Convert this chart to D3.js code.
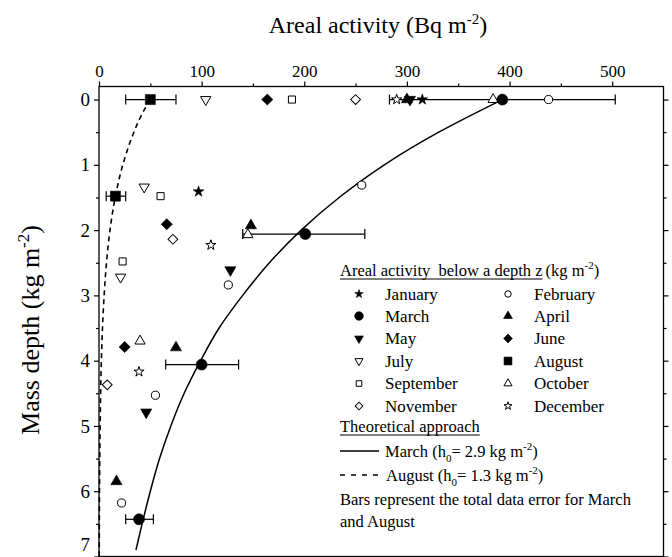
<!DOCTYPE html>
<html><head><meta charset="utf-8">
<script src="https://cdn.jsdelivr.net/npm/d3@7"></script>
<style>
body{margin:0;background:#fff}
svg{display:block}
text{font-family:"Liberation Serif","Times New Roman",serif;fill:#000}
</style>
</head><body>
<svg id="chart" width="672" height="557"></svg>
<script>
// ---------- DATA (activity in Bq m-2, depth in kg m-2) ----------
const months = ["January","February","March","April","May","June","July","August","September","October","November","December"];

// each point: [depth, activity]
const january   = [[0,315],[1.41,97]];
const february  = [[0,438],[1.31,256],[2.84,126],[4.53,55],[6.18,22]];
const march     = [[0,393],[2.06,201],[4.06,100],[6.43,39]];
const april     = [[0,300],[1.93,148],[3.80,75],[5.85,17]];
const may       = [[0,303],[2.61,128],[4.79,46]];
const june      = [[0,164],[1.91,66],[3.79,25]];
const july      = [[0,104],[1.34,44],[2.72,21]];
const august    = [[0,50],[1.48,16]];
const september = [[0,188],[1.48,60],[2.48,23]];
const october   = [[0,384],[2.07,145],[3.70,40]];
const november  = [[0,250],[2.14,72],[4.37,8]];
const december  = [[0,290],[2.23,109],[4.17,39]];
const monthData = [january,february,march,april,may,june,july,august,september,october,november,december];

// error bars: [depth, low, high]
const marchErrors  = [[0,283,503],[2.06,140,259],[4.06,65,136],[6.43,26,53]];
const augustErrors = [[0,26,75],[1.48,7,26]];

// theoretical curves: [depth, activity]
const marchTheory  = [[0,393],[0.5,331],[1,278],[1.5,234],[2,197],[2.5,166],[3,140],[3.5,117],[4,99],[4.5,83],[5,70],[5.5,59],[6,50],[6.5,42],[6.9,36]];
const augustTheory = [[0,50],[0.25,41],[0.5,34],[1,23.2],[1.5,15.8],[2,10.7],[2.5,7.3],[3,5.0],[3.5,3.4],[4,2.3],[5,1.1],[6,0.5],[7,0.23]];

const xTicks = [0,100,200,300,400,500];
const xMinorTicks = [50,150,250,350,450];
const yTicks = [0,1,2,3,4,5,6,7];
const yMinorTicks = [0.5,1.5,2.5,3.5,4.5,5.5,6.5];

// ---------- STYLE ----------
const FONT = "'Liberation Serif','Times New Roman',serif";
const monthShape  = ["star","circle","circle","triUp","triDown","diamond","triDown","square","square","triUp","diamond","star"];
const monthFilled = [true,false,true,true,true,true,false,true,false,false,false,false];

const svg = d3.select("#chart");
const L = 99, R = 663.5, T = 86.5, B = 556.5;
const x = d3.scaleLinear().domain([0,550]).range([L,R]);
const y = d3.scaleLinear().domain([-0.2,7]).range([T,B]);

function symbolPath(shape, filled, scale){
  let type, size, rot = 0;
  switch(shape){
    case "circle":  type = d3.symbolCircle;   size = filled ? 95 : 52; break;
    case "triUp":   type = d3.symbolTriangle; size = filled ? 54 : 46; break;
    case "triDown": type = d3.symbolTriangle; size = filled ? 54 : 46; rot = 180; break;
    case "square":  type = d3.symbolSquare;   size = filled ? 100 : 50; break;
    case "diamond": type = d3.symbolSquare;   size = filled ? 62 : 48; rot = 45; break;
    case "star":    type = d3.symbolStar;     size = filled ? 36 : 32; break;
  }
  return {d: d3.symbol().type(type).size(size*scale)(), rot};
}
function drawSymbol(g, shape, filled, cx, cy, scale){
  const s = symbolPath(shape, filled, scale);
  g.append("path").attr("d", s.d)
    .attr("transform", `translate(${cx},${cy}) rotate(${s.rot})`)
    .attr("fill", filled ? "#000" : "#fff")
    .attr("stroke", "#000")
    .attr("stroke-width", filled ? 0.6 : 1);
}

// ---------- AXES ----------
const axG = svg.append("g");
function styleAxis(g){
  g.attr("font-family", FONT);
  g.select(".domain").remove();
  g.selectAll(".tick line").attr("stroke","#000").attr("stroke-width",1.2);
  g.selectAll(".tick text").style("font-family",FONT).attr("fill","#000");
}
// top
axG.append("g").attr("transform",`translate(0,${T})`)
  .call(d3.axisTop(x).tickValues(xTicks).tickSize(5).tickPadding(5).tickFormat(d3.format("d")))
  .call(styleAxis).call(g=>g.selectAll(".tick text").attr("font-size",17));
axG.append("g").attr("transform",`translate(0,${T})`)
  .call(d3.axisTop(x).tickValues(xMinorTicks).tickSize(3).tickFormat(""))
  .call(styleAxis);
// left
axG.append("g").attr("transform",`translate(${L},0)`)
  .call(d3.axisLeft(y).tickValues(yTicks).tickSize(5).tickPadding(4).tickFormat(d3.format("d")))
  .call(styleAxis)
  .call(g=>g.selectAll(".tick text").attr("font-size",19))
  .call(g=>g.selectAll(".tick text").filter(d=>d===7).attr("dy","-0.32em"));
axG.append("g").attr("transform",`translate(${L},0)`)
  .call(d3.axisLeft(y).tickValues(yMinorTicks).tickSize(3).tickFormat(""))
  .call(styleAxis);
// right
axG.append("g").attr("transform",`translate(${R},0)`)
  .call(d3.axisRight(y).tickValues(yTicks).tickSize(5).tickFormat(""))
  .call(styleAxis);
axG.append("g").attr("transform",`translate(${R},0)`)
  .call(d3.axisRight(y).tickValues(yMinorTicks).tickSize(3).tickFormat(""))
  .call(styleAxis);
// frame
svg.append("rect").attr("x",L).attr("y",T).attr("width",R-L).attr("height",B-T)
  .attr("fill","none").attr("stroke","#000").attr("stroke-width",1.3);

// axis titles
const title = svg.append("text").attr("x",378).attr("y",33).attr("text-anchor","middle").attr("font-size",24);
title.append("tspan").text("Areal activity (Bq m");
title.append("tspan").attr("dy",-9).attr("font-size",15).text("-2");
title.append("tspan").attr("dy",9).text(")");

const ytitle = svg.append("text").attr("transform","translate(39,330) rotate(-90)").attr("text-anchor","middle").attr("font-size",26);
ytitle.append("tspan").text("Mass depth (kg m");
ytitle.append("tspan").attr("dy",-10).attr("font-size",17).text("-2");
ytitle.append("tspan").attr("dy",10).text(")");

// ---------- CURVES ----------
const plot = svg.append("g");
const line = d3.line().x(d=>x(d[1])).y(d=>y(d[0])).curve(d3.curveMonotoneY);
plot.append("path").attr("d", line(marchTheory)).attr("fill","none").attr("stroke","#000").attr("stroke-width",1.5);
plot.append("path").attr("d", line(augustTheory)).attr("fill","none").attr("stroke","#000").attr("stroke-width",1.6).attr("stroke-dasharray","5,4");

// ---------- ERROR BARS ----------
function errorBars(arr){
  arr.forEach(e=>{
    const cy = y(e[0]);
    plot.append("line").attr("x1",x(e[1])).attr("x2",x(e[2])).attr("y1",cy).attr("y2",cy).attr("stroke","#000").attr("stroke-width",1.2);
    [e[1],e[2]].forEach(v=>plot.append("line").attr("x1",x(v)).attr("x2",x(v)).attr("y1",cy-5).attr("y2",cy+5).attr("stroke","#000").attr("stroke-width",1.2));
  });
}
errorBars(marchErrors);
errorBars(augustErrors);

// ---------- POINTS ----------
const order = [0,1,3,4,5,6,8,9,10,11,7,2];
order.forEach(i=>{
  monthData[i].forEach(p=>drawSymbol(plot, monthShape[i], monthFilled[i], x(p[1]), y(p[0]), 1));
});

// ---------- LEGEND ----------
const lg = svg.append("g").attr("font-size",16);
const hdr = lg.append("text").attr("x",340).attr("y",276).attr("font-size",16.5)
  .style("white-space","pre").text("Areal activity  below a depth z");
const hw = hdr.node().getComputedTextLength();
lg.append("line").attr("x1",340).attr("x2",340+hw).attr("y1",279).attr("y2",279).attr("stroke","#000").attr("stroke-width",1);
const hdr2 = lg.append("text").attr("x",340+hw+3).attr("y",276).attr("font-size",16.5);
hdr2.append("tspan").text("(kg m");
hdr2.append("tspan").attr("dy",-7).attr("font-size",11).text("-2");
hdr2.append("tspan").attr("dy",7).text(")");

const rowY = [294,316,338.5,361,383.5,406];
months.forEach((m,i)=>{
  const col = i % 2, row = Math.floor(i/2);
  const sx = col === 0 ? 359 : 508;
  const tx = col === 0 ? 385 : 534;
  drawSymbol(lg, monthShape[i], monthFilled[i], sx, rowY[row], 0.62);
  lg.append("text").attr("x",tx).attr("y",rowY[row]+5.5).attr("font-size",17).text(m);
});

const th = lg.append("text").attr("x",340).attr("y",432).attr("font-size",16.5).text("Theoretical approach");
const thw = th.node().getComputedTextLength();
lg.append("line").attr("x1",340).attr("x2",340+thw).attr("y1",435).attr("y2",435).attr("stroke","#000").attr("stroke-width",1);

lg.append("line").attr("x1",340).attr("x2",379).attr("y1",451).attr("y2",451).attr("stroke","#000").attr("stroke-width",1.5);
const t1 = lg.append("text").attr("x",385).attr("y",456.5).attr("font-size",16.5);
t1.append("tspan").text("March (h");
t1.append("tspan").attr("dy",5).attr("font-size",11).text("0");
t1.append("tspan").attr("dy",-5).text("= 2.9 kg m");
t1.append("tspan").attr("dy",-7).attr("font-size",11).text("-2");
t1.append("tspan").attr("dy",7).text(")");

lg.append("line").attr("x1",340).attr("x2",379).attr("y1",475).attr("y2",475).attr("stroke","#000").attr("stroke-width",1.5).attr("stroke-dasharray","5,6");
const t2 = lg.append("text").attr("x",386).attr("y",480.5).attr("font-size",16.5);
t2.append("tspan").text("August (h");
t2.append("tspan").attr("dy",5).attr("font-size",11).text("0");
t2.append("tspan").attr("dy",-5).text("= 1.3 kg m");
t2.append("tspan").attr("dy",-7).attr("font-size",11).text("-2");
t2.append("tspan").attr("dy",7).text(")");

lg.append("text").attr("x",340).attr("y",505).attr("font-size",16.5).text("Bars represent the total data error for March");
lg.append("text").attr("x",340).attr("y",527).attr("font-size",16.5).text("and August");
</script>
</body></html>
